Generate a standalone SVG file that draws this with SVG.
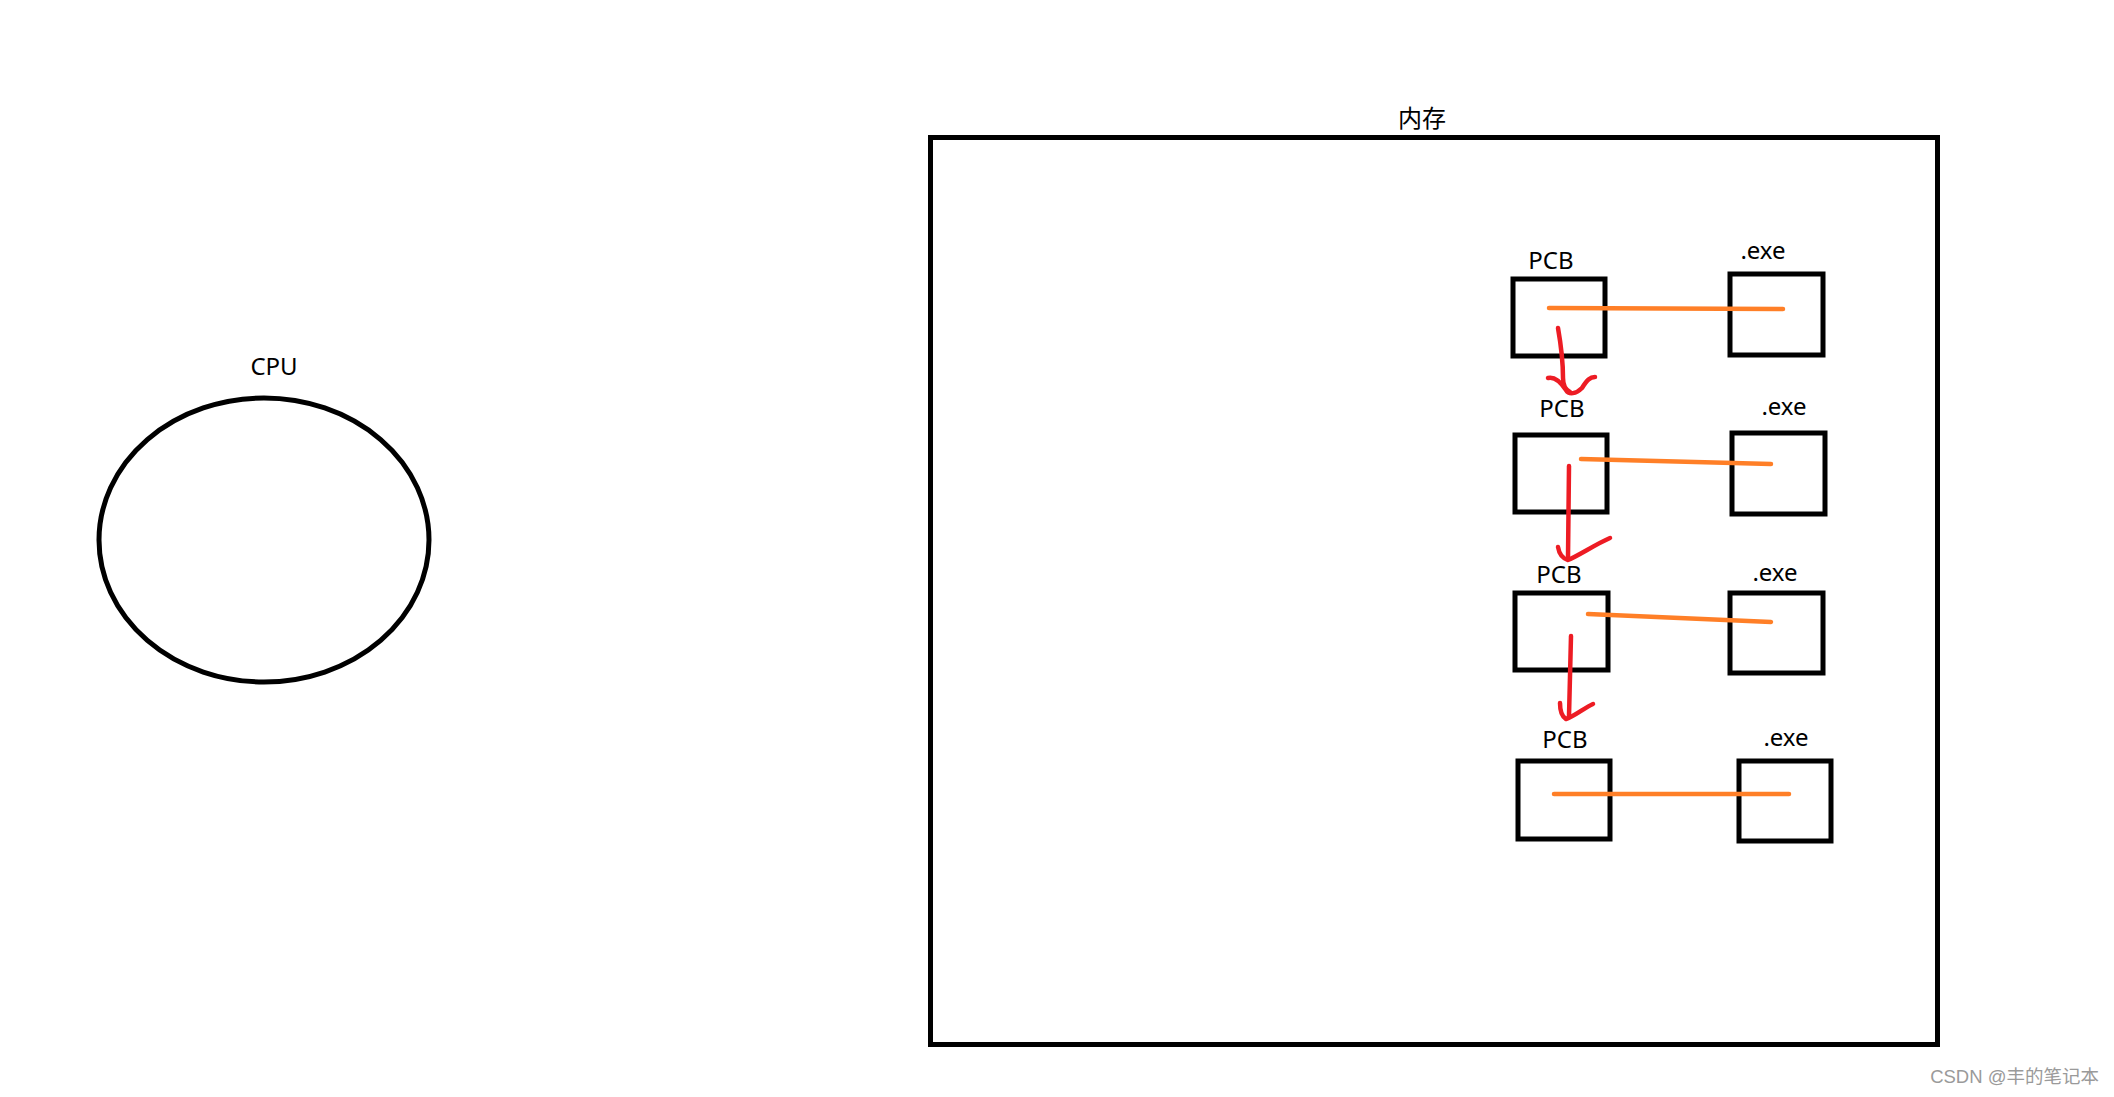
<svg xmlns="http://www.w3.org/2000/svg" width="2114" height="1097" viewBox="0 0 2114 1097">
<style>
.box{fill:none;stroke:#000;stroke-width:5}
.lbl{font-family:"Noto Sans","Open Sans","Noto Sans CJK SC",sans-serif;font-size:24px;fill:#000;text-anchor:middle}
.link{fill:none;stroke:#ff7f27;stroke-width:4.5;stroke-linecap:round}
.arr{fill:none;stroke:#ed1c24;stroke-width:4.5;stroke-linecap:round;stroke-linejoin:round}
.wm{font-family:"Liberation Sans","Noto Sans CJK SC",sans-serif;font-size:18.5px;fill:#9a9a9a;text-anchor:end}
</style>
<rect width="2114" height="1097" fill="#fff"/>
<g id="cpu">
<ellipse class="box" cx="264" cy="540" rx="165" ry="142" stroke-width="4.5"/>
<text class="lbl" x="274" y="375">CPU</text>
</g>
<g id="memory">
<rect class="box" x="930.5" y="137.5" width="1007" height="907"/>
<text class="lbl" x="1422" y="127" font-size="25" font-family="Noto Sans CJK SC,sans-serif">内存</text>
</g>
<g id="pcb1"><rect class="box" x="1513" y="279" width="92" height="77" stroke-width="4"/><text class="lbl" x="1551" y="269">PCB</text></g>
<g id="exe1"><rect class="box" x="1730" y="274" width="93" height="81" stroke-width="4"/><text class="lbl" x="1763" y="259">.exe</text></g>
<g id="pcb2"><rect class="box" x="1515" y="435" width="92" height="77" stroke-width="4"/><text class="lbl" x="1562" y="417">PCB</text></g>
<g id="exe2"><rect class="box" x="1732" y="433" width="93" height="81" stroke-width="4"/><text class="lbl" x="1784" y="415">.exe</text></g>
<g id="pcb3"><rect class="box" x="1515" y="593" width="93" height="77" stroke-width="4"/><text class="lbl" x="1559" y="583">PCB</text></g>
<g id="exe3"><rect class="box" x="1730" y="593" width="93" height="80" stroke-width="4"/><text class="lbl" x="1775" y="581">.exe</text></g>
<g id="pcb4"><rect class="box" x="1518" y="761" width="92" height="78" stroke-width="4"/><text class="lbl" x="1565" y="748">PCB</text></g>
<g id="exe4"><rect class="box" x="1739" y="761" width="92" height="80" stroke-width="4"/><text class="lbl" x="1786" y="746">.exe</text></g>
<g id="connectors">
<path class="link" d="M1549,308 L1783,309"/>
<path class="link" d="M1581,459 L1771,464"/>
<path class="link" d="M1588,614 L1771,622"/>
<path class="link" d="M1554,794 L1789,794"/>
<path class="arr" d="M1558,328 C1561,345 1563,362 1563,378 C1563,385 1566,390 1570,392"/>
<path class="arr" d="M1548,378 C1556,376 1562,384 1566,390 C1569,395 1576,394 1582,388 C1587,380 1590,377 1595,377"/>
<path class="arr" d="M1569,466 L1568,558"/>
<path class="arr" d="M1558,547 C1559,553 1561,558 1568,560 C1578,556 1596,544 1610,538"/>
<path class="arr" d="M1571,636 L1569,716"/>
<path class="arr" d="M1560,703 C1560,710 1561,716 1566,719 C1575,716 1584,708 1593,704"/>
</g>
<text class="wm" x="2099" y="1083">CSDN @丰的笔记本</text>
</svg>
